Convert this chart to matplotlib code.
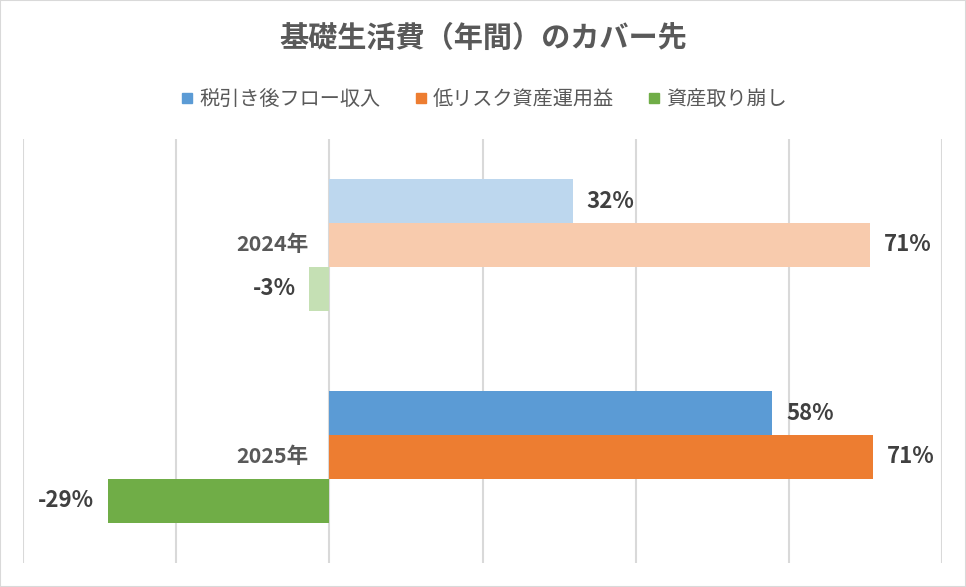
import matplotlib.pyplot as plt
from matplotlib.lines import Line2D
from matplotlib.patches import Rectangle

plt.rcParams['font.family'] = ['Noto Sans CJK JP', 'DejaVu Sans']

# data (percent of basic living cost)
years = ["2024年", "2025年"]
series = ["税引き後フロー収入", "低リスク資産運用益", "資産取り崩し"]
values_2024 = [31.8, 70.6, -2.6]
values_2025 = [57.8, 71.0, -28.9]
colors = ["#5B9BD5", "#ED7D31", "#70AD47"]
colors_light = ["#BDD7EE", "#F8CBAD", "#C5E0B4"]
grid_ticks = [-40, -20, 0, 20, 40, 60, 80]

fig = plt.figure(figsize=(9.66, 5.87), dpi=100)
fig.patches.append(Rectangle((0, 0), 1, 1, transform=fig.transFigure,
                             facecolor="white", edgecolor="#d9d9d9", linewidth=1.5, zorder=-10))
ax = fig.add_axes([0.0238, 0.0409, 0.9514, 0.7223])

bar_h = 0.2075
offsets = [-bar_h, 0, bar_h]

for gi, vals in enumerate([values_2024, values_2025]):
    cols = colors_light if gi == 0 else colors
    for si, v in enumerate(vals):
        y = gi + offsets[si]
        ax.barh(y, v, height=bar_h, color=cols[si], zorder=3)
        if v >= 0:
            ax.annotate(f"{v:.0f}%", (v, y), xytext=(10, 0), textcoords="offset points",
                        ha="left", va="center", fontsize=16, fontweight="bold", color="#404040")
        else:
            ax.annotate(f"{v:.0f}%", (v, y), xytext=(-10, 0), textcoords="offset points",
                        ha="right", va="center", fontsize=16, fontweight="bold", color="#404040")
    ax.annotate(years[gi], (0, gi), xytext=(-15, 0), textcoords="offset points",
                ha="right", va="center", fontsize=15.5, fontweight="bold", color="#595959")

ax.set_xlim(-40, 80)
ax.set_ylim(1.5, -0.5)
ax.set_xticks(grid_ticks)
ax.set_yticks([])
ax.tick_params(axis="x", length=0, labelbottom=False)
ax.grid(axis="x", color="#d9d9d9", linewidth=1.5, zorder=0)
for s in ax.spines.values():
    s.set_visible(False)

fig.text(0.5, 0.935, "基礎生活費（年間）のカバー先", ha="center", va="center",
         fontsize=21, fontweight="bold", color="#595959")

handles = [Line2D([], [], linestyle="none", marker="s", markersize=7, color=c) for c in colors]
fig.legend(handles, series, loc="center", bbox_to_anchor=(0.5, 0.83), ncol=3, frameon=False,
           fontsize=14.5, labelcolor="#595959", handletextpad=0.2, columnspacing=1.6,
           handlelength=0.8)

fig.savefig("out.png", dpi=100)
